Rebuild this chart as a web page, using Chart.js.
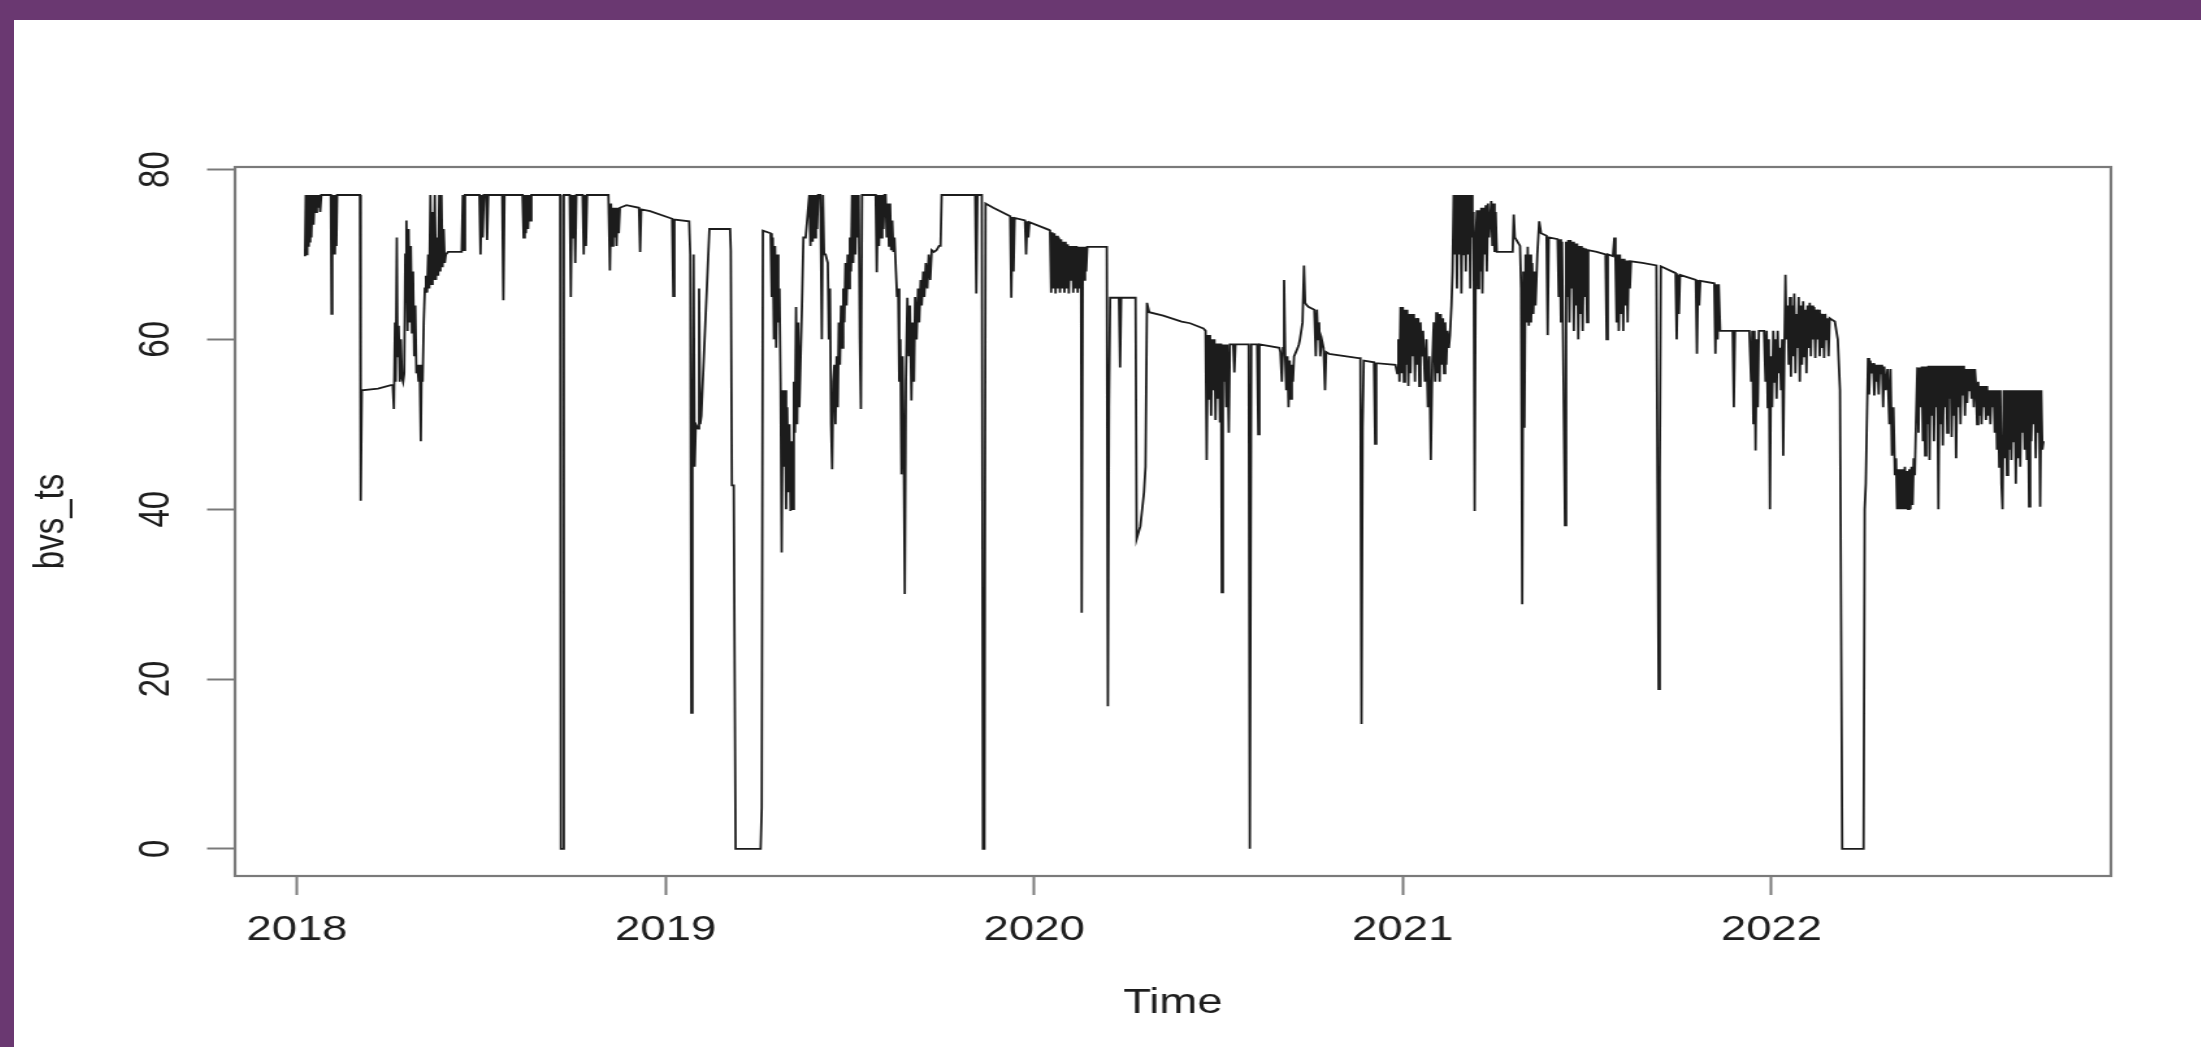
<!DOCTYPE html>
<html>
<head>
<meta charset="utf-8">
<script src="https://cdn.jsdelivr.net/npm/chart.js@4.4.1/dist/chart.umd.min.js"></script>
<style>
  html, body { margin: 0; padding: 0; }
  body { width: 2201px; height: 1047px; overflow: hidden; background: #6a3871; position: relative; }
  #paper { position: absolute; left: 14px; top: 20px; right: 0; bottom: 0; background: #ffffff; }
  #wrap { position: absolute; left: 14px; top: 20px; width: 1683px; height: 1027px; transform: scaleX(1.3); transform-origin: 0 0; }
</style>
</head>
<body>
<div id="paper"></div>
<div id="wrap"><canvas id="c" width="1683" height="1027"></canvas></div>
<script>
// ---- data (decimal year, value) ----
const yearTicks = [2018, 2019, 2020, 2021, 2022];
const valueTicks = [0, 20, 40, 60, 80];
const xTitle = 'Time';
const yTitle = 'bvs_ts';

const obs2018 = [[2018.022,69.8],[2018.024,77],[2018.026,70],[2018.028,77],[2018.030,71],[2018.032,77],[2018.034,71.5],[2018.036,77],[2018.039,72],[2018.042,77],[2018.045,73.5],[2018.048,77],[2018.051,75],[2018.054,77],[2018.057,75.5],[2018.060,77],[2018.063,75],[2018.066,77],[2018.092,77],[2018.094,63],[2018.096,77],[2018.099,70],[2018.101,77],[2018.103,70],[2018.105,77],[2018.107,71],[2018.109,77],[2018.171,77],[2018.173,41],[2018.176,54],[2018.220,54.2],[2018.255,54.6],[2018.260,54.6],[2018.263,51.8],[2018.266,62],[2018.268,55],[2018.271,72],[2018.273,58],[2018.276,61.6],[2018.279,55],[2018.282,60],[2018.285,55.5],[2018.288,55],[2018.291,56],[2018.294,70],[2018.297,74],[2018.300,61],[2018.303,73],[2018.306,62],[2018.309,71],[2018.312,60.8],[2018.315,68],[2018.318,58],[2018.321,64],[2018.324,56],[2018.327,57],[2018.330,55],[2018.333,57],[2018.336,48],[2018.338,56],[2018.341,55],[2018.344,62],[2018.347,66],[2018.350,67.5],[2018.353,65.5],[2018.356,70],[2018.359,66],[2018.362,77],[2018.365,66.5],[2018.368,75],[2018.371,67],[2018.374,77],[2018.377,67],[2018.380,72],[2018.383,67.5],[2018.386,77],[2018.389,68],[2018.392,77],[2018.395,68.5],[2018.398,73],[2018.401,69],[2018.404,70],[2018.410,70.3],[2018.447,70.3],[2018.450,77],[2018.453,70.5],[2018.456,77],[2018.495,77],[2018.498,70],[2018.501,77],[2018.504,72],[2018.507,77],[2018.513,77],[2018.516,71.7],[2018.519,77],[2018.557,77],[2018.560,64.6],[2018.563,77],[2018.612,77],[2018.615,72],[2018.618,77],[2018.621,72.5],[2018.624,77],[2018.627,73],[2018.630,77],[2018.633,74],[2018.636,77],[2018.714,77],[2018.716,0],[2018.722,0],[2018.724,77],[2018.740,77],[2018.743,65],[2018.746,77],[2018.749,72],[2018.752,77],[2018.755,69],[2018.758,77],[2018.775,77],[2018.778,70],[2018.781,77],[2018.784,71],[2018.787,77],[2018.845,77],[2018.849,68.1],[2018.852,76],[2018.855,71],[2018.858,75.5],[2018.861,72],[2018.864,75.5],[2018.867,71],[2018.870,75.5],[2018.873,72.5],[2018.876,75.5],[2018.894,75.8],[2018.928,75.5],[2018.931,70.3],[2018.934,75.3],[2018.958,75.1]];

const obs2019 = [[2019.018,74.2],[2019.021,65.1],[2019.024,74.1],[2019.064,73.9],[2019.067,70],[2019.070,16],[2019.073,44.7],[2019.076,70],[2019.079,45],[2019.082,50],[2019.088,49.5],[2019.091,66],[2019.094,50],[2019.097,51],[2019.119,73],[2019.175,73],[2019.177,70.5],[2019.180,42.8],[2019.185,42.8],[2019.190,0],[2019.258,0],[2019.261,4.9],[2019.264,72.8],[2019.285,72.5],[2019.288,65],[2019.291,72],[2019.294,60],[2019.297,71],[2019.300,59],[2019.303,70],[2019.306,62],[2019.309,66],[2019.312,55],[2019.315,34.9],[2019.318,54],[2019.321,45],[2019.324,54],[2019.327,40],[2019.330,52],[2019.333,42],[2019.336,50],[2019.339,39.8],[2019.342,48],[2019.345,40],[2019.348,55],[2019.351,49],[2019.354,63.8],[2019.357,50],[2019.360,62],[2019.363,52],[2019.370,64],[2019.374,72],[2019.380,72],[2019.390,77],[2019.393,71],[2019.396,77],[2019.399,71.5],[2019.402,77],[2019.405,72],[2019.408,77],[2019.411,73],[2019.414,77],[2019.420,77],[2019.424,60],[2019.427,77],[2019.430,70],[2019.434,70],[2019.440,69],[2019.443,60],[2019.446,66],[2019.449,50],[2019.452,44.7],[2019.455,55],[2019.458,57],[2019.461,50],[2019.464,58],[2019.467,52],[2019.470,62],[2019.473,57],[2019.476,64],[2019.479,59],[2019.482,66],[2019.485,62],[2019.488,69],[2019.491,64],[2019.494,70],[2019.497,66],[2019.500,72],[2019.503,68],[2019.506,77],[2019.509,69],[2019.512,77],[2019.515,70],[2019.518,77],[2019.521,72],[2019.524,77],[2019.527,60],[2019.530,51.8],[2019.533,77],[2019.545,77],[2019.570,77],[2019.573,67.9],[2019.576,77],[2019.579,71],[2019.582,77],[2019.585,72],[2019.588,77],[2019.591,73],[2019.594,77],[2019.597,77],[2019.600,72],[2019.603,76],[2019.606,71],[2019.609,76],[2019.612,70.5],[2019.615,74],[2019.618,70.3],[2019.621,72],[2019.625,68],[2019.628,65],[2019.631,66],[2019.634,55],[2019.637,60],[2019.640,44.1],[2019.643,58],[2019.646,48],[2019.649,30],[2019.652,55],[2019.656,64.9],[2019.660,58],[2019.663,64],[2019.667,52.8],[2019.670,62],[2019.674,55],[2019.677,65],[2019.681,60],[2019.685,66],[2019.688,62],[2019.692,67],[2019.695,64],[2019.699,68],[2019.702,65],[2019.706,69],[2019.710,66],[2019.714,70],[2019.718,67],[2019.722,70.5],[2019.728,70.3],[2019.735,70.5],[2019.742,71],[2019.746,71],[2019.749,77],[2019.840,77],[2019.843,65.4],[2019.846,77],[2019.858,77],[2019.861,0],[2019.865,0],[2019.868,76],[2019.889,75.5],[2019.935,74.5],[2019.938,64.9],[2019.941,74.4],[2019.944,68],[2019.947,74.3],[2019.975,74],[2019.978,70],[2019.981,73.9],[2019.984,72],[2019.987,73.8]];

const obs2020 = [[2020.040,72.9],[2020.043,72.8],[2020.046,65.5],[2020.049,72.6],[2020.052,66],[2020.055,72.5],[2020.058,65.4],[2020.061,72.2],[2020.064,66],[2020.067,72],[2020.070,65.5],[2020.073,71.8],[2020.076,66],[2020.079,71.5],[2020.082,65.5],[2020.085,71.5],[2020.088,66],[2020.091,71.2],[2020.094,65.4],[2020.097,71],[2020.100,67],[2020.103,71],[2020.106,65.5],[2020.109,71],[2020.112,66],[2020.115,71],[2020.118,65.5],[2020.121,70.9],[2020.124,66],[2020.127,70.9],[2020.129,27.8],[2020.132,70.9],[2020.135,67],[2020.138,70.9],[2020.141,68],[2020.144,70.9],[2020.197,70.9],[2020.200,16.8],[2020.203,52],[2020.206,64.9],[2020.230,64.9],[2020.233,56.7],[2020.236,64.9],[2020.275,64.9],[2020.278,36.5],[2020.288,38],[2020.298,42],[2020.302,45],[2020.306,64.3],[2020.312,63.2],[2020.350,62.8],[2020.400,62.1],[2020.423,61.9],[2020.459,61.3],[2020.465,61],[2020.468,45.8],[2020.471,60.5],[2020.474,53],[2020.477,60.5],[2020.480,51],[2020.483,60],[2020.486,54],[2020.489,60],[2020.492,50.5],[2020.495,59.5],[2020.498,53],[2020.501,59.5],[2020.504,50.2],[2020.507,59.5],[2020.509,30.2],[2020.512,59.4],[2020.515,55],[2020.518,59.4],[2020.521,52],[2020.524,59.4],[2020.528,49],[2020.531,59.4],[2020.540,59.4],[2020.543,56.1],[2020.546,59.4],[2020.582,59.4],[2020.585,0],[2020.589,59.4],[2020.605,59.4],[2020.608,48.8],[2020.611,59.4],[2020.665,59],[2020.668,58.5],[2020.672,55],[2020.675,59],[2020.678,67],[2020.681,58],[2020.684,54],[2020.687,58],[2020.690,52],[2020.693,57.5],[2020.696,53],[2020.699,57],[2020.702,55],[2020.705,58],[2020.710,58.5],[2020.715,59],[2020.718,59.4],[2020.721,60],[2020.728,62],[2020.732,68.7],[2020.735,64.3],[2020.740,64],[2020.745,63.8],[2020.760,63.5],[2020.764,58],[2020.767,63.5],[2020.770,60],[2020.773,62],[2020.776,58],[2020.780,60],[2020.785,59],[2020.789,54],[2020.792,58.5],[2020.800,58.3],[2020.880,57.8],[2020.885,57.8],[2020.888,14.7],[2020.891,49.6],[2020.894,57.5],[2020.922,57.3],[2020.925,47.7],[2020.928,57.2],[2020.980,57],[2020.985,56],[2020.988,60],[2020.991,55],[2020.994,63.8],[2020.997,56]];

const obs2021 = [[2021.000,63.8],[2021.003,55],[2021.006,63.5],[2021.009,57],[2021.012,63.5],[2021.015,54.5],[2021.018,63],[2021.021,56],[2021.024,63],[2021.027,58],[2021.030,63],[2021.033,55],[2021.036,62.5],[2021.039,57],[2021.042,62.5],[2021.045,54.5],[2021.048,62],[2021.051,58],[2021.055,61],[2021.060,55],[2021.064,60],[2021.068,52],[2021.072,58],[2021.076,45.8],[2021.080,57],[2021.084,62],[2021.088,55],[2021.091,63.2],[2021.094,56],[2021.097,63],[2021.100,55],[2021.103,63],[2021.106,57],[2021.109,62.5],[2021.112,56],[2021.115,62],[2021.118,57],[2021.121,61],[2021.125,59],[2021.128,60.5],[2021.132,64],[2021.135,68],[2021.138,77],[2021.141,70],[2021.144,77],[2021.147,66],[2021.150,77],[2021.153,70],[2021.156,77],[2021.159,65.4],[2021.162,77],[2021.165,70],[2021.168,77],[2021.171,68],[2021.174,77],[2021.177,70],[2021.180,77],[2021.183,66],[2021.186,77],[2021.189,72],[2021.192,75],[2021.195,39.8],[2021.198,72],[2021.201,75.2],[2021.204,66],[2021.207,75.2],[2021.210,68],[2021.213,75.5],[2021.216,65.4],[2021.219,75.5],[2021.222,70],[2021.225,75.8],[2021.228,68],[2021.231,76],[2021.234,72],[2021.240,76.3],[2021.243,71],[2021.246,76],[2021.249,70.3],[2021.252,75],[2021.255,70.3],[2021.298,70.3],[2021.301,74.7],[2021.304,72],[2021.318,71],[2021.321,66],[2021.324,28.8],[2021.327,68],[2021.330,49.6],[2021.333,70],[2021.336,62],[2021.339,70.9],[2021.342,61.6],[2021.345,70],[2021.348,62],[2021.351,69],[2021.354,63],[2021.357,68],[2021.360,64],[2021.365,70],[2021.370,73.9],[2021.375,72.5],[2021.390,72.2],[2021.393,60.5],[2021.396,72],[2021.420,71.8],[2021.423,65],[2021.426,71.8],[2021.429,62],[2021.432,71.5],[2021.436,55],[2021.440,38.1],[2021.443,71.5],[2021.446,65],[2021.449,71.7],[2021.452,62],[2021.455,71.7],[2021.458,66],[2021.461,71.5],[2021.464,61],[2021.467,71.3],[2021.470,64],[2021.473,71.3],[2021.476,60],[2021.479,71],[2021.482,63],[2021.485,71],[2021.488,61],[2021.491,70.8],[2021.494,65],[2021.497,70.7],[2021.500,62],[2021.503,70.5],[2021.526,70.3],[2021.550,70],[2021.553,60],[2021.556,70],[2021.570,69.8],[2021.574,72],[2021.577,69.5],[2021.580,62],[2021.583,70],[2021.586,61],[2021.589,70],[2021.592,63],[2021.595,69.5],[2021.598,61],[2021.601,69.5],[2021.604,64],[2021.607,69.3],[2021.610,62],[2021.613,69.3],[2021.616,66],[2021.619,69.2],[2021.650,69],[2021.688,68.7],[2021.691,43],[2021.694,18.8],[2021.697,43.6],[2021.700,68.6],[2021.740,67.8],[2021.743,60],[2021.746,67.6],[2021.749,63],[2021.752,67.6],[2021.795,67],[2021.798,58.3],[2021.801,67],[2021.804,64],[2021.807,66.9],[2021.845,66.6],[2021.848,58.3],[2021.851,66.5],[2021.854,60],[2021.857,66.5],[2021.861,61],[2021.895,61],[2021.898,52],[2021.901,61],[2021.940,61],[2021.945,55],[2021.948,61],[2021.951,50],[2021.954,61],[2021.957,46.9],[2021.960,60],[2021.963,52],[2021.966,61],[2021.980,61],[2021.984,55],[2021.987,61],[2021.990,52],[2021.993,60],[2021.996,40],[2021.999,58]];

const obs2022 = [[2022.002,52],[2022.005,61],[2022.008,55],[2022.011,60],[2022.014,53],[2022.017,61],[2022.020,56],[2022.023,59],[2022.026,54],[2022.029,60],[2022.032,46.3],[2022.035,58],[2022.038,67.6],[2022.041,60],[2022.044,64],[2022.047,57],[2022.050,65],[2022.053,55.6],[2022.056,64],[2022.059,58],[2022.062,65.4],[2022.065,56],[2022.068,63],[2022.071,59],[2022.074,65],[2022.077,55],[2022.080,64],[2022.083,57],[2022.086,64.5],[2022.089,58],[2022.092,63.5],[2022.095,56],[2022.098,64],[2022.101,59],[2022.104,64.3],[2022.107,58],[2022.110,64],[2022.113,60],[2022.116,63.8],[2022.119,57.8],[2022.122,63.5],[2022.125,60],[2022.128,63.5],[2022.131,58],[2022.134,63],[2022.137,59],[2022.140,63],[2022.143,57.8],[2022.146,63],[2022.149,60],[2022.152,62.5],[2022.155,58],[2022.158,62.5],[2022.165,62.3],[2022.172,62.1],[2022.180,60],[2022.186,54],[2022.192,0],[2022.250,0],[2022.253,40],[2022.256,43],[2022.262,57.8],[2022.265,53.5],[2022.268,57.5],[2022.272,56],[2022.276,57.2],[2022.279,53.4],[2022.282,57],[2022.285,55],[2022.288,57],[2022.291,53.5],[2022.294,57],[2022.297,56],[2022.300,57],[2022.303,52],[2022.306,56.8],[2022.310,54],[2022.315,56.5],[2022.320,50],[2022.323,56.5],[2022.327,46.3],[2022.331,52],[2022.335,44],[2022.338,46],[2022.341,40],[2022.344,44.7],[2022.347,40],[2022.350,44.7],[2022.353,40],[2022.356,44.7],[2022.359,40],[2022.362,45],[2022.365,40],[2022.368,44.5],[2022.371,40],[2022.374,44.7],[2022.377,40],[2022.380,45],[2022.383,40.5],[2022.386,46],[2022.389,44],[2022.392,50],[2022.396,56.7],[2022.399,49],[2022.402,56.7],[2022.405,52],[2022.408,56.8],[2022.411,48],[2022.414,56.8],[2022.417,46.3],[2022.420,56.8],[2022.423,50],[2022.426,56.9],[2022.429,45.8],[2022.432,56.9],[2022.435,51],[2022.438,56.9],[2022.441,48],[2022.444,56.9],[2022.447,52],[2022.450,56.9],[2022.453,40],[2022.456,56.9],[2022.459,50],[2022.462,56.9],[2022.465,47.5],[2022.468,56.9],[2022.471,52],[2022.474,56.9],[2022.477,49],[2022.480,56.9],[2022.483,53],[2022.486,56.9],[2022.489,48.5],[2022.492,56.9],[2022.495,51],[2022.498,56.9],[2022.501,46],[2022.504,56.9],[2022.507,52],[2022.510,56.9],[2022.513,50],[2022.516,56.9],[2022.519,53.5],[2022.522,56.9],[2022.525,51],[2022.528,56.5],[2022.531,52.5],[2022.534,56.5],[2022.537,54],[2022.540,56.5],[2022.543,53],[2022.546,56.5],[2022.549,52],[2022.552,56.5],[2022.555,54.5],[2022.558,50],[2022.561,55],[2022.564,51],[2022.567,54.5],[2022.570,50],[2022.573,54.5],[2022.576,52],[2022.579,54.5],[2022.582,50.5],[2022.585,54.5],[2022.588,51],[2022.591,54],[2022.594,50],[2022.597,54],[2022.600,52],[2022.603,54],[2022.606,49],[2022.609,54],[2022.612,47],[2022.615,54],[2022.618,45],[2022.621,54],[2022.624,43],[2022.627,40],[2022.630,54],[2022.633,46],[2022.636,54],[2022.639,44],[2022.642,54],[2022.645,47],[2022.648,54],[2022.651,45.8],[2022.654,54],[2022.657,48],[2022.660,54],[2022.663,43],[2022.666,54],[2022.669,46],[2022.672,54],[2022.675,45],[2022.678,54],[2022.681,49],[2022.684,54],[2022.687,47],[2022.690,54],[2022.693,45.8],[2022.696,54],[2022.699,40.3],[2022.702,54],[2022.705,48],[2022.708,54],[2022.711,50],[2022.714,54],[2022.717,46],[2022.720,54],[2022.723,49],[2022.726,54],[2022.729,40.3],[2022.732,54],[2022.735,47],[2022.738,48]];

// axis ranges read from the frame
const xMin = 2017.832, xMax = 2022.921;
const yMin = -3.2, yMax = 80.3;

const series = [].concat(obs2018, obs2019, obs2020, obs2021, obs2022).map(p => ({ x: p[0], y: p[1] }));

const FONT = "'Liberation Sans', Arial, Helvetica, sans-serif";
const textColor = '#1e1e1e';
const axisGray = '#7a7a7a';

const boxPlugin = {
  id: 'rbox',
  afterDraw(chart) {
    const a = chart.chartArea, ctx = chart.ctx;
    ctx.save();
    ctx.strokeStyle = axisGray;
    ctx.lineWidth = 2.2;
    ctx.strokeRect(a.left, a.top, a.right - a.left, a.bottom - a.top);
    ctx.restore();
  }
};

new Chart(document.getElementById('c').getContext('2d'), {
  type: 'line',
  data: {
    datasets: [{
      data: series,
      borderColor: '#1c1c1c',
      borderWidth: 1.8,
      pointRadius: 0,
      tension: 0,
      fill: false
    }]
  },
  options: {
    responsive: false,
    animation: false,
    events: [],
    parsing: false,
    normalized: true,
    layout: { padding: { left: 0, right: 70, top: 147, bottom: 0 } },
    plugins: { legend: { display: false }, tooltip: { enabled: false }, title: { display: false } },
    scales: {
      x: {
        type: 'linear',
        min: xMin,
        max: xMax,
        afterBuildTicks: s => { s.ticks = yearTicks.map(v => ({ value: v })); },
        afterFit: s => { s.height = 171; },
        ticks: { callback: v => String(v), font: { family: FONT, size: 35 }, color: textColor, padding: 14, maxRotation: 0, minRotation: 0, autoSkip: false },
        grid: { display: true, drawOnChartArea: false, drawTicks: true, tickLength: 19, tickColor: axisGray, tickWidth: 2 },
        border: { display: false },
        title: { display: true, text: xTitle, font: { family: FONT, size: 35 }, color: textColor, padding: { top: 0, bottom: 23 } }
      },
      y: {
        type: 'linear',
        min: yMin,
        max: yMax,
        afterBuildTicks: s => { s.ticks = valueTicks.map(v => ({ value: v })); },
        afterFit: s => { s.width = 170; },
        ticks: { callback: v => String(v), font: { family: FONT, size: 33 }, color: textColor, padding: 20, minRotation: 90, maxRotation: 90, crossAlign: 'center' },
        grid: { display: true, drawOnChartArea: false, drawTicks: true, tickLength: 21.5, tickColor: axisGray, tickWidth: 2 },
        border: { display: false },
        title: { display: true, text: yTitle, font: { family: FONT, size: 33 }, color: textColor, padding: { top: 9, bottom: 0 } }
      }
    }
  },
  plugins: [boxPlugin]
});
</script>
</body>
</html>
